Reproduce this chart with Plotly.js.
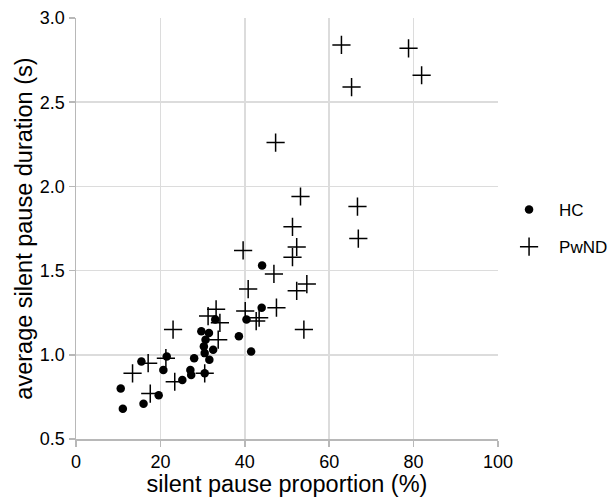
<!DOCTYPE html>
<html>
<head>
<meta charset="utf-8">
<script src="https://cdn.plot.ly/plotly-3.0.1.min.js"></script>
<style>html,body{margin:0;padding:0;background:#fff;}#chart{width:610px;height:497px;}</style>
</head>
<body>
<div id="chart"></div>
<script>
// HC group: silent pause proportion (%) and average silent pause duration (s)
var hcProportion = [10.6, 11.1, 16.0, 15.5, 19.6, 20.7, 21.5, 25.2, 27.1, 27.3, 28.0, 29.7, 31.5, 30.7, 30.3, 32.5, 30.5, 31.6, 30.5, 33.0, 38.6, 40.4, 41.5, 44.0, 44.1];
var hcDuration   = [0.80, 0.68, 0.71, 0.96, 0.76, 0.91, 0.99, 0.85, 0.91, 0.88, 0.98, 1.14, 1.13, 1.09, 1.05, 1.03, 1.01, 0.97, 0.89, 1.21, 1.11, 1.21, 1.02, 1.28, 1.53];
// PwND group
var pwndProportion = [13.4, 17.1, 17.6, 21.3, 23.0, 23.4, 30.5, 31.3, 33.2, 34.1, 33.7, 39.6, 40.8, 40.1, 43.4, 42.7, 47.5, 46.9, 47.3, 51.3, 52.3, 51.3, 52.3, 54.7, 53.2, 54.0, 66.7, 66.9, 62.9, 65.3, 78.8, 81.9];
var pwndDuration   = [0.89, 0.95, 0.77, 0.98, 1.15, 0.84, 0.89, 1.23, 1.27, 1.19, 1.09, 1.62, 1.39, 1.26, 1.22, 1.20, 1.28, 1.48, 2.26, 1.58, 1.64, 1.76, 1.38, 1.42, 1.94, 1.15, 1.88, 1.69, 2.84, 2.59, 2.82, 2.66];
var groupNames = ["HC", "PwND"];
var xTicks = [0, 20, 40, 60, 80, 100];
var yTicks = [0.5, 1.0, 1.5, 2.0, 2.5, 3.0];

var FONT = "Liberation Sans, Arial, sans-serif";
var traces = [
  {x: hcProportion, y: hcDuration, name: groupNames[0], type: "scatter", mode: "markers",
   legendgroup: "a",
   marker: {symbol: "circle", size: 8.5, color: "#000", line: {width: 0}}},
  {x: pwndProportion, y: pwndDuration, name: groupNames[1], type: "scatter", mode: "markers",
   legendgroup: "b",
   marker: {symbol: "cross-thin-open", size: 13, color: "#000", line: {width: 1.5, color: "#000"}}}
];
var axisCommon = {
  showgrid: true, gridcolor: "#dcdcdc", gridwidth: 1.5,
  showline: true, linecolor: "#b8b8b8", linewidth: 1.5,
  ticks: "outside", ticklen: 6, tickwidth: 1.5, tickcolor: "#b8b8b8",
  zeroline: false, tickfont: {family: FONT, size: 18, color: "#000"}
};
var layout = {
  width: 610, height: 497,
  margin: {l: 76, r: 112, t: 18, b: 58, autoexpand: false},
  paper_bgcolor: "#fff", plot_bgcolor: "#fff",
  font: {family: FONT, color: "#000"},
  xaxis: Object.assign({}, axisCommon, {
    range: [0, 100], tickvals: xTicks, ticktext: xTicks.map(String),
    title: {text: "silent pause proportion (%)", font: {family: FONT, size: 23.5}, standoff: 1}
  }),
  yaxis: Object.assign({}, axisCommon, {
    range: [0.5, 3.0], tickvals: yTicks, ticktext: yTicks.map(function(v){return v.toFixed(1);}),
    title: {text: "average silent pause duration (s)", font: {family: FONT, size: 23.5}, standoff: 0}
  }),
  showlegend: true,
  legend: {x: 1.0025, y: 0.5, xref: "paper", xanchor: "left", yanchor: "middle", tracegroupgap: 12,
           itemwidth: 50,
           font: {family: FONT, size: 17, color: "#000"}, bgcolor: "rgba(0,0,0,0)"}
};
Plotly.newPlot("chart", traces, layout, {displayModeBar: false, staticPlot: true});
</script>
</body>
</html>
